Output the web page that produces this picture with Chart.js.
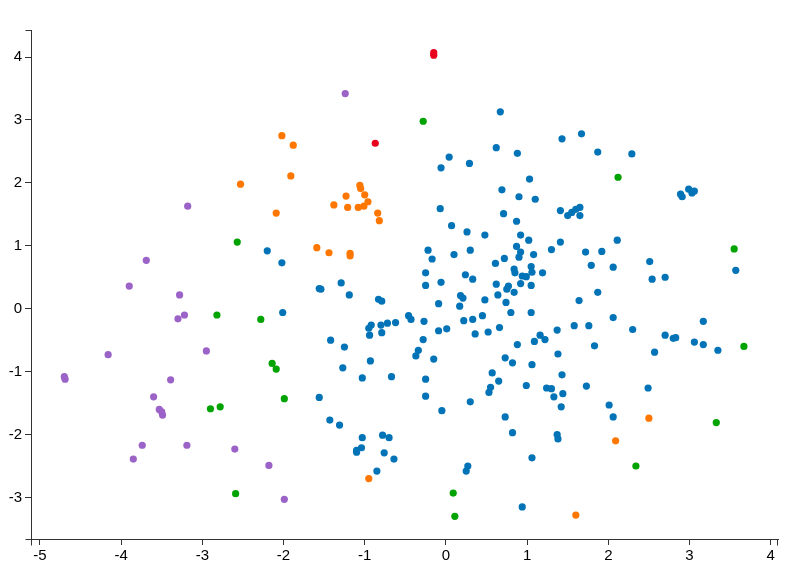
<!DOCTYPE html>
<html>
<head>
<meta charset="utf-8">
<script src="https://cdn.jsdelivr.net/npm/chart.js@4"></script>
<style>
  body { margin: 0; background: #fff; }
</style>
</head>
<body>
<canvas id="scatterChart" width="800" height="575"></canvas>
<script>
// point groups [x, y]
var bluePts = [
  [0.67,3.13],[0.04,2.41],[-0.06,2.24],[0.29,2.31],[0.62,2.56],[0.88,2.47],[1.43,2.70],[1.67,2.78],[1.87,2.49],
  [1.03,2.06],[0.69,1.89],[0.90,1.78],[1.10,1.74],
  [2.29,2.46],[2.89,1.82],[2.91,1.78],[2.99,1.90],[3.03,1.84],[3.06,1.87],
  [-0.07,1.59],[0.71,1.51],[0.87,1.39],[1.41,1.56],[1.50,1.48],[1.55,1.53],[1.60,1.58],[1.65,1.61],[1.65,1.48],
  [0.07,1.32],[0.26,1.22],[0.48,1.17],[0.92,1.17],[1.02,1.09],[1.41,1.06],[0.87,0.99],[-0.22,0.93],[0.30,0.93],
  [0.10,0.86],[0.92,0.90],[1.08,0.86],[1.30,0.94],[1.72,0.90],[1.92,0.91],[-0.17,0.79],[0.72,0.80],[0.90,0.82],
  [0.61,0.72],[1.79,0.69],[-0.25,0.57],[0.24,0.54],[0.33,0.47],[-0.06,0.42],[0.84,0.63],[0.85,0.57],[0.94,0.52],
  [0.99,0.51],[1.05,0.67],[1.06,0.58],[1.19,0.57],[-0.25,0.37],[0.62,0.39],[0.77,0.36],[0.75,0.31],[0.92,0.40],
  [1.05,0.37],[0.84,0.26],[0.64,0.22],[0.18,0.21],[0.21,0.17],[0.48,0.14],[0.74,0.10],[1.87,0.26],[1.64,0.13],
  [-0.09,0.08],[0.17,0.04],[0.80,-0.06],[1.05,-0.06],[0.45,-0.11],[-0.46,-0.11],[-0.43,-0.17],[-0.27,-0.20],
  [0.22,-0.19],[0.33,-0.17],[0.66,-0.30],[-0.09,-0.35],[0.01,-0.32],[0.36,-0.40],[0.52,-0.37],[1.58,-0.27],
  [1.76,-0.27],[1.37,-0.34],[1.16,-0.42],[1.22,-0.49],[1.09,-0.52],[0.88,-0.57],[-0.28,-0.49],[-0.34,-0.66],
  [-0.37,-0.75],[1.83,-0.59],[1.38,-0.72],[-0.15,-0.80],[0.73,-0.78],[0.82,-0.86],[1.06,-0.89],[0.57,-1.02],
  [1.43,-1.05],[-0.25,-1.12],[0.65,-1.15],
  [0.99,-1.22],[0.55,-1.25],[0.53,-1.33],[1.24,-1.26],[1.30,-1.27],[1.33,-1.40],[1.44,-1.35],[1.73,-1.23],
  [1.42,-1.56],[-0.25,-1.39],[-0.05,-1.62],[0.30,-1.48],[0.73,-1.72],[0.82,-1.97],[1.37,-2.00],[1.38,-2.07],
  [1.06,-2.37],[0.27,-2.50],[0.25,-2.58],[0.94,-3.15],
  [2.49,-1.26],[2.01,-1.53],[2.06,-1.72],
  [2.11,1.09],[2.06,0.66],[2.51,0.75],[2.54,0.47],[2.70,0.50],[3.57,0.61],[2.06,-0.14],[2.30,-0.33],[3.17,-0.20],
  [2.70,-0.42],[2.80,-0.47],[2.83,-0.46],[3.06,-0.53],[3.17,-0.57],[3.35,-0.66],[2.57,-0.69],
  [-2.20,0.92],[-2.02,0.73],[-1.29,0.41],[-1.56,0.32],[-1.54,0.31],[-1.19,0.22],[-0.83,0.15],[-0.79,0.12],
  [-2.01,-0.06],[-0.92,-0.26],[-0.95,-0.31],[-0.80,-0.26],[-0.72,-0.23],[-0.62,-0.22],[-0.94,-0.42],[-0.79,-0.38],
  [-1.42,-0.50],[-1.25,-0.61],[-0.93,-0.83],[-1.27,-0.94],[-1.03,-1.10],[-0.67,-1.08],
  [-1.56,-1.41],[-1.43,-1.77],[-1.31,-1.85],[-1.03,-2.05],[-0.78,-2.01],[-0.70,-2.05],[-1.04,-2.21],[-1.10,-2.25],
  [-1.10,-2.28],[-0.76,-2.29],[-0.64,-2.39],[-0.85,-2.58]
];

var orangePts = [
  [-2.02,2.75],[-1.88,2.60],[-1.91,2.11],[-2.53,1.98],[-1.06,1.96],[-1.05,1.91],[-1.00,1.81],[-1.23,1.79],
  [-0.96,1.70],[-1.38,1.65],[-1.21,1.61],[-1.08,1.61],[-1.01,1.63],[-0.84,1.52],[-0.82,1.40],[-2.09,1.52],
  [-1.59,0.97],[-1.44,0.89],[-1.18,0.88],[-1.18,0.84],[-0.95,-2.70],[1.60,-3.28],[2.50,-1.74],[2.09,-2.10]
];

var greenPts = [
  [-0.28,2.98],[2.12,2.09],[-2.57,1.06],[-2.82,-0.10],[-2.28,-0.17],[-2.14,-0.87],[-2.09,-0.96],[-2.90,-1.59],
  [-2.78,-1.56],[-1.99,-1.43],[-2.59,-2.94],[0.09,-2.93],[0.11,-3.30],[2.34,-2.50],[3.33,-1.81],[3.55,0.95],
  [3.67,-0.60]
];

var purplePts = [
  [-1.24,3.42],[-3.18,1.63],[-3.69,0.77],[-3.90,0.36],[-3.28,0.22],[-3.22,-0.10],[-3.30,-0.16],[-2.95,-0.67],
  [-4.16,-0.73],[-4.70,-1.08],[-4.69,-1.12],[-3.39,-1.13],[-3.60,-1.40],[-3.53,-1.60],[-3.50,-1.64],[-3.49,-1.69],
  [-3.74,-2.17],[-3.19,-2.17],[-3.85,-2.39],[-2.60,-2.23],[-2.18,-2.49],[-1.99,-3.03]
];

var redPts = [[-0.15,4.07],[-0.15,4.03],[-0.87,2.63]];

var xMin = -5.11, xMax = 4.09;
var yMin = -3.66, yMax = 4.43;

function toXY(arr){
  return arr.map(function(p){ return {x: p[0], y: p[1]}; });
}

function group(pts, color){
  return {
    data: toXY(pts),
    backgroundColor: color,
    borderWidth: 0,
    pointRadius: 3.6,
    pointHoverRadius: 3.6
  };
}

var axisColor = '#333';

// little end caps on the axes (like d3 outer ticks)
var axisCaps = {
  id: 'axisCaps',
  afterDraw: function(chart){
    var a = chart.chartArea, c = chart.ctx;
    var l = Math.round(a.left) + 0.5, b = Math.round(a.bottom) + 0.5;
    var t = Math.round(a.top) + 0.5, r = Math.round(a.right) - 0.5;
    c.save();
    c.strokeStyle = axisColor;
    c.lineWidth = 1;
    c.beginPath();
    c.moveTo(l - 6, t); c.lineTo(l, t);
    c.moveTo(l - 6, b); c.lineTo(l, b);
    c.moveTo(l, b); c.lineTo(l, b + 6);
    c.moveTo(r, b); c.lineTo(r, b + 6);
    c.stroke();
    c.restore();
  }
};

var ctx = document.getElementById('scatterChart').getContext('2d');
var scatterChart = new Chart(ctx, {
  type: 'scatter',
  data: {
    // first dataset ends up on top
    datasets: [
      group(redPts, '#e8001c'),
      group(purplePts, '#9b62c7'),
      group(greenPts, '#00a300'),
      group(orangePts, '#ff7700'),
      group(bluePts, '#0173b6')
    ]
  },
  options: {
    responsive: false,
    animation: false,
    layout: {
      autoPadding: false,
      padding: {top: 30, right: 22, left: 0, bottom: 0}
    },
    plugins: {
      legend: {display: false},
      tooltip: {enabled: false}
    },
    scales: {
      x: {
        type: 'linear',
        min: xMin,
        max: xMax,
        afterFit: function(scale){ scale.height = 36; },
        grid: {drawOnChartArea: false, drawTicks: true, tickLength: 6, color: axisColor, lineWidth: 1},
        border: {display: true, color: axisColor, width: 1},
        ticks: {
          stepSize: 1,
          includeBounds: false,
          autoSkip: false,
          maxRotation: 0,
          padding: 2,
          color: '#000',
          font: {family: 'Liberation Sans, Arial, sans-serif', size: 15}
        }
      },
      y: {
        type: 'linear',
        min: yMin,
        max: yMax,
        afterFit: function(scale){ scale.width = 31; },
        grid: {drawOnChartArea: false, drawTicks: true, tickLength: 6, color: axisColor, lineWidth: 1},
        border: {display: true, color: axisColor, width: 1},
        ticks: {
          stepSize: 1,
          includeBounds: false,
          autoSkip: false,
          padding: 3,
          color: '#000',
          font: {family: 'Liberation Sans, Arial, sans-serif', size: 15}
        }
      }
    }
  },
  plugins: [axisCaps]
});
</script>
</body>
</html>
